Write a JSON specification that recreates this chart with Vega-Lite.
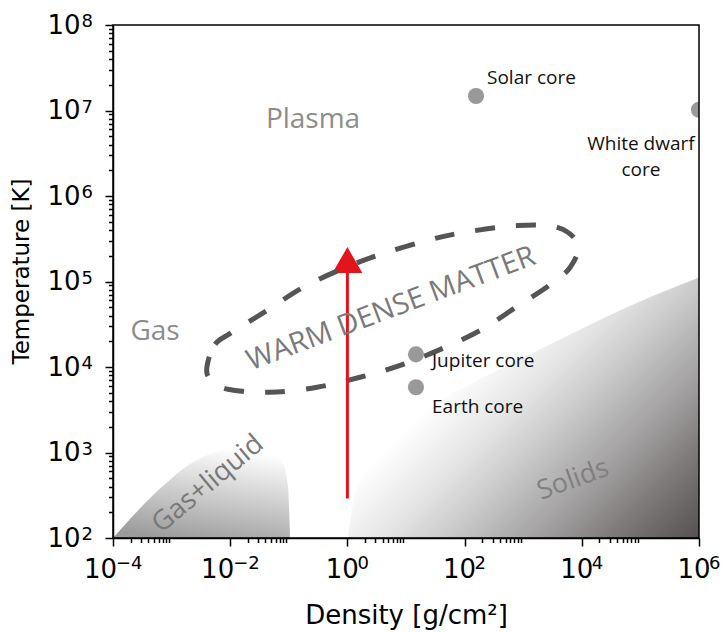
{
  "$schema": "https://vega.github.io/schema/vega-lite/v6.json",
  "width": 586,
  "height": 513,
  "autosize": "none",
  "padding": {"left": 113, "top": 25, "right": 26, "bottom": 94},
  "background": "white",
  "config": {
    "view": {"stroke": null},
    "text": {"font": "Open Sans"}
  },
  "datasets": {
    "solids": [
      {"density": 1.02, "temp": 100},
      {"density": 1.197, "temp": 218},
      {"density": 1.641, "temp": 463},
      {"density": 2.958, "temp": 957},
      {"density": 7.907, "temp": 1875},
      {"density": 38.02, "temp": 3972},
      {"density": 401.8, "temp": 9397},
      {"density": 6295, "temp": 24050},
      {"density": 98400, "temp": 58480},
      {"density": 1000000, "temp": 111400}
    ],
    "gasliquid": [
      {"density": 0.0001, "temp": 100},
      {"density": 0.000195, "temp": 167},
      {"density": 0.00071, "temp": 405},
      {"density": 0.0023, "temp": 771},
      {"density": 0.0067, "temp": 1038},
      {"density": 0.0218, "temp": 1186},
      {"density": 0.063, "temp": 1038},
      {"density": 0.0796, "temp": 771},
      {"density": 0.0968, "temp": 405},
      {"density": 0.105, "temp": 100}
    ],
    "wdm": [
      {"i": 1, "density": 0.00402, "temp": 10190},
      {"i": 2, "density": 0.00551, "temp": 18410},
      {"i": 3, "density": 0.01074, "temp": 25410},
      {"i": 4, "density": 0.04246, "temp": 45920},
      {"i": 5, "density": 0.1746, "temp": 85110},
      {"i": 6, "density": 0.8414, "temp": 141900},
      {"i": 7, "density": 3.597, "temp": 206500},
      {"i": 8, "density": 19.5, "temp": 293100},
      {"i": 9, "density": 93.97, "temp": 373300},
      {"i": 10, "density": 783.4, "temp": 450800},
      {"i": 11, "density": 3926, "temp": 426600},
      {"i": 12, "density": 8610, "temp": 270400},
      {"i": 13, "density": 6295, "temp": 145900},
      {"i": 14, "density": 2754, "temp": 89740},
      {"i": 15, "density": 783.4, "temp": 51050},
      {"i": 16, "density": 198.2, "temp": 27540},
      {"i": 17, "density": 46.34, "temp": 16980},
      {"i": 18, "density": 8.892, "temp": 10740},
      {"i": 19, "density": 1.641, "temp": 7586},
      {"i": 20, "density": 0.3027, "temp": 5794},
      {"i": 21, "density": 0.04775, "temp": 5058},
      {"i": 22, "density": 0.009162, "temp": 5483},
      {"i": 23, "density": 0.004519, "temp": 7178}
    ],
    "arrow": [{"density": 1, "temp": 290, "temp2": 178000}],
    "arrowhead": [{"density": 1, "temp": 178000}],
    "cores": [
      {"name": "Solar core", "density": 156.6, "temp": 14800000},
      {"name": "White dwarf core", "density": 1000000, "temp": 10200000},
      {"name": "Jupiter core", "density": 14.8, "temp": 14060},
      {"name": "Earth core", "density": 14.8, "temp": 5794}
    ],
    "corelabels": [
      {"label": "Solar core", "density": 241, "temp": 24100000},
      {"label": "Jupiter core", "density": 27.8, "temp": 11640},
      {"label": "Earth core", "density": 27.8, "temp": 3381}
    ],
    "dwarflabel": [{"label": "White dwarf\ncore", "density": 102000, "temp": 4080000}],
    "phases": [
      {"label": "Plasma", "density": 0.259, "temp": 7780000},
      {"label": "Gas", "density": 0.000521, "temp": 25400}
    ],
    "wdmlabel": [{"label": "WARM DENSE MATTER", "density": 5.55, "temp": 48400}],
    "gasliquidlabel": [{"label": "Gas+liquid", "density": 0.00418, "temp": 428}],
    "solidslabel": [{"label": "Solids", "density": 7080, "temp": 480}]
  },
  "resolve": {"axis": {"x": "independent", "y": "independent"}},
  "layer": [
    {
      "encoding": {
        "x": {
          "field": "density",
          "type": "quantitative",
          "scale": {"type": "log", "domain": [0.0001, 1000000], "nice": false},
          "axis": {
            "title": "Density [g/cm²]",
            "orient": "bottom",
            "zindex": 1,
            "values": [0.0001, 0.0002, 0.0003, 0.0004, 0.0005, 0.0006, 0.0007, 0.0008, 0.0009,
                       0.01, 0.02, 0.03, 0.04, 0.05, 0.06, 0.07, 0.08, 0.09,
                       1, 2, 3, 4, 5, 6, 7, 8, 9,
                       100, 200, 300, 400, 500, 600, 700, 800, 900,
                       10000, 20000, 30000, 40000, 50000, 60000, 70000, 80000, 90000,
                       1000000],
            "labelExpr": "abs(log(datum.value)/LN10 - round(log(datum.value)/LN10)) < 0.001 ? '10' : ''",
            "labelAlign": "right",
            "labelOffset": {"condition": {"test": "datum.value < 1", "value": 3.5}, "value": 11},
            "tickSize": {"condition": {"test": "abs(log(datum.value)/LN10 - round(log(datum.value)/LN10)) < 0.001", "value": 8}, "value": 4.5},
            "tickWidth": 1.5,
            "tickColor": "black",
            "domainColor": "black",
            "domainWidth": 1.5,
            "grid": false,
            "labelFlush": false,
            "labelOverlap": false,
            "labelBound": false,
            "labelFont": "DejaVu Sans",
            "labelFontSize": 26,
            "labelColor": "black",
            "labelPadding": 10,
            "titleFont": "DejaVu Sans",
            "titleFontSize": 26,
            "titleFontWeight": "normal",
            "titleColor": "black",
            "titleBaseline": "top",
            "titleY": 64
          }
        },
        "y": {
          "field": "temp",
          "type": "quantitative",
          "scale": {"type": "log", "domain": [100, 100000000], "nice": false},
          "axis": {
            "title": "Temperature [K]",
            "orient": "left",
            "zindex": 1,
            "values": [100, 200, 300, 400, 500, 600, 700, 800, 900,
                       1000, 2000, 3000, 4000, 5000, 6000, 7000, 8000, 9000,
                       10000, 20000, 30000, 40000, 50000, 60000, 70000, 80000, 90000,
                       100000, 200000, 300000, 400000, 500000, 600000, 700000, 800000, 900000,
                       1000000, 2000000, 3000000, 4000000, 5000000, 6000000, 7000000, 8000000, 9000000,
                       10000000, 20000000, 30000000, 40000000, 50000000, 60000000, 70000000, 80000000, 90000000,
                       100000000],
            "labelExpr": "abs(log(datum.value)/LN10 - round(log(datum.value)/LN10)) < 0.001 ? '10' : ''",
            "tickSize": {"condition": {"test": "abs(log(datum.value)/LN10 - round(log(datum.value)/LN10)) < 0.001", "value": 8}, "value": 4.5},
            "tickWidth": 1.5,
            "tickColor": "black",
            "domainColor": "black",
            "domainWidth": 1.5,
            "grid": false,
            "labelFlush": false,
            "labelOverlap": false,
            "labelBound": false,
            "labelFont": "DejaVu Sans",
            "labelFontSize": 26,
            "labelColor": "black",
            "labelBaseline": "middle",
            "labelPadding": 25,
            "titleFont": "DejaVu Sans",
            "titleFontSize": 23,
            "titleFontWeight": "normal",
            "titleColor": "black",
            "titleAngle": -90,
            "titleBaseline": "middle",
            "titleX": -92,
            "titleY": 246
          }
        }
      },
      "layer": [
        {
          "data": {"name": "solids"},
          "mark": {
            "type": "area",
            "interpolate": "monotone",
            "clip": true,
            "fill": {
              "gradient": "linear",
              "x1": 0, "y1": 0, "x2": 1.124, "y2": 0.833,
              "stops": [
                {"offset": 0, "color": "#ffffff"},
                {"offset": 0.34, "color": "#ffffff"},
                {"offset": 0.48, "color": "#e5e5e5"},
                {"offset": 0.6, "color": "#c6c6c6"},
                {"offset": 0.72, "color": "#a6a4a4"},
                {"offset": 0.86, "color": "#7c7878"},
                {"offset": 1, "color": "#555150"}
              ]
            }
          },
          "encoding": {"y2": {"datum": 100}}
        },
        {
          "data": {"name": "gasliquid"},
          "mark": {
            "type": "area",
            "interpolate": "monotone",
            "clip": true,
            "fill": {
              "gradient": "linear",
              "x1": 0.6, "y1": 0, "x2": 0.3, "y2": 1,
              "stops": [
                {"offset": 0, "color": "#ffffff"},
                {"offset": 1, "color": "#9c9c9c"}
              ]
            }
          },
          "encoding": {"y2": {"datum": 100}}
        },
        {
          "data": {"name": "arrowhead"},
          "mark": {"type": "point", "shape": "triangle-up", "filled": true, "size": 900, "color": "#e3141b", "opacity": 1}
        },
        {
          "data": {"name": "wdm"},
          "mark": {"type": "line", "interpolate": "cardinal-closed", "strokeDash": [20, 21], "strokeWidth": 5, "color": "#555555"},
          "encoding": {"order": {"field": "i", "type": "quantitative"}}
        },
        {
          "data": {"name": "arrow"},
          "mark": {"type": "rule", "color": "#e3141b", "strokeWidth": 3},
          "encoding": {"y2": {"field": "temp2"}}
        },
        {
          "data": {"name": "cores"},
          "mark": {"type": "circle", "size": 260, "color": "#999999", "opacity": 1, "clip": true}
        },
        {
          "data": {"name": "arrowhead"},
          "mark": {"type": "rect", "filled": false, "stroke": "black", "strokeWidth": 1.5},
          "encoding": {
            "x": {"datum": 0.0001},
            "x2": {"datum": 1000000},
            "y": {"datum": 100},
            "y2": {"datum": 100000000}
          }
        },
        {
          "data": {"name": "corelabels"},
          "mark": {"type": "text", "align": "left", "baseline": "middle", "fontSize": 19, "color": "#111111"},
          "encoding": {"text": {"field": "label"}}
        },
        {
          "data": {"name": "dwarflabel"},
          "mark": {"type": "text", "align": "center", "baseline": "middle", "fontSize": 19, "lineBreak": "\n", "lineHeight": 26, "color": "#111111"},
          "encoding": {"text": {"field": "label"}}
        },
        {
          "data": {"name": "phases"},
          "mark": {"type": "text", "align": "center", "baseline": "middle", "fontSize": 28, "color": "#8c8c8c"},
          "encoding": {"text": {"field": "label"}}
        },
        {
          "data": {"name": "wdmlabel"},
          "mark": {"type": "text", "align": "center", "baseline": "middle", "fontSize": 29, "angle": -20.5, "color": "#7a7a7a"},
          "encoding": {"text": {"field": "label"}}
        },
        {
          "data": {"name": "gasliquidlabel"},
          "mark": {"type": "text", "align": "center", "baseline": "middle", "fontSize": 27.5, "angle": -40, "color": "#787878"},
          "encoding": {"text": {"field": "label"}}
        },
        {
          "data": {"name": "solidslabel"},
          "mark": {"type": "text", "align": "center", "baseline": "middle", "fontSize": 27, "angle": -20, "color": "#808080"},
          "encoding": {"text": {"field": "label"}}
        }
      ]
    },
    {
      "data": {"name": "arrowhead"},
      "mark": {"type": "point", "opacity": 0},
      "encoding": {
        "x": {
          "field": "density",
          "type": "quantitative",
          "scale": {"type": "log", "domain": [0.0001, 1000000], "nice": false},
          "axis": {
            "title": null,
            "orient": "bottom",
            "zindex": 1,
            "values": [0.0001, 0.01, 1, 100, 10000, 1000000],
            "labelExpr": "(round(log(datum.value)/LN10) < 0 ? '−' : '') + abs(round(log(datum.value)/LN10))",
            "labelAlign": "left",
            "labelOffset": {"condition": {"test": "datum.value < 1", "value": 2.5}, "value": 9.5},
            "domain": false,
            "grid": false,
            "tickSize": 8,
            "tickOpacity": 0,
            "labelFlush": false,
            "labelOverlap": false,
            "labelBound": false,
            "labelFont": "DejaVu Sans",
            "labelFontSize": 18,
            "labelColor": "black",
            "labelPadding": 8
          }
        },
        "y": {
          "field": "temp",
          "type": "quantitative",
          "scale": {"type": "log", "domain": [100, 100000000], "nice": false},
          "axis": {
            "title": null,
            "orient": "left",
            "zindex": 1,
            "values": [100, 1000, 10000, 100000, 1000000, 10000000, 100000000],
            "labelExpr": "'' + round(log(datum.value)/LN10)",
            "labelAlign": "right",
            "labelBaseline": "middle",
            "labelOffset": -3.5,
            "domain": false,
            "grid": false,
            "tickSize": 8,
            "tickOpacity": 0,
            "labelFlush": false,
            "labelOverlap": false,
            "labelBound": false,
            "labelFont": "DejaVu Sans",
            "labelFontSize": 18,
            "labelColor": "black",
            "labelPadding": 12.5
          }
        }
      }
    }
  ]
}
